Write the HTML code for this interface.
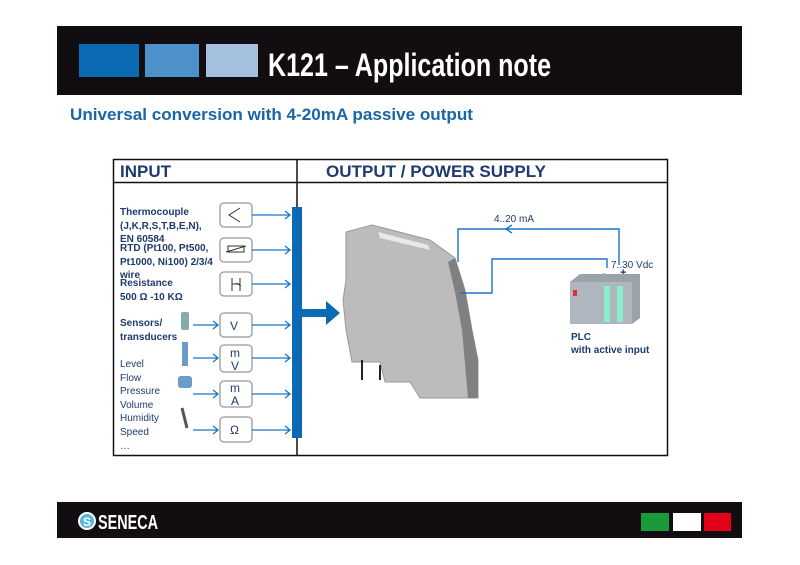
<!DOCTYPE html>
<html><head><meta charset="utf-8"><style>
body{margin:0;background:#fff;width:800px;height:565px;overflow:hidden}
svg{display:block}
</style></head><body>
<svg width="800" height="565" viewBox="0 0 800 565" font-family="Liberation Sans, sans-serif">
<rect x="57" y="26" width="685" height="69" fill="#110d10"/>
<rect x="79" y="44" width="60" height="33" fill="#0b6ab4"/>
<rect x="145" y="44" width="54" height="33" fill="#4d91ca"/>
<rect x="206" y="44" width="52" height="33" fill="#a6c0e0"/>
<text x="268" y="76" fill="#fff" font-size="32" font-weight="bold" textLength="283" lengthAdjust="spacingAndGlyphs">K121 – Application note</text>
<text x="70" y="120" fill="#1a66a6" font-size="17" font-weight="bold" textLength="403" lengthAdjust="spacingAndGlyphs">Universal conversion with 4-20mA passive output</text>

<rect x="113.5" y="159.5" width="554" height="296" fill="#fff" stroke="#111" stroke-width="1.5"/>
<line x1="113" y1="182.5" x2="667" y2="182.5" stroke="#111" stroke-width="1.5"/>
<line x1="297" y1="159" x2="297" y2="455" stroke="#111" stroke-width="1.5"/>
<text x="120" y="177" fill="#1f3a6e" font-size="17" font-weight="bold">INPUT</text>
<text x="326" y="177" fill="#1f3a6e" font-size="17" font-weight="bold" textLength="220" lengthAdjust="spacingAndGlyphs">OUTPUT / POWER SUPPLY</text>

<g fill="#1f3a6e" font-size="10" font-weight="bold">
<text x="120" y="215">Thermocouple</text>
<text x="120" y="229">(J,K,R,S,T,B,E,N),</text>
<text x="120" y="242">EN 60584</text>
<text x="120" y="251">RTD (Pt100, Pt500,</text>
<text x="120" y="265">Pt1000, Ni100)  2/3/4</text>
<text x="120" y="278">wire</text>
<text x="120" y="286">Resistance</text>
<text x="120" y="300">500 Ω -10 KΩ</text>
<text x="120" y="326">Sensors/</text>
<text x="120" y="340">transducers</text>
</g>
<g fill="#1f3a6e" font-size="10">
<text x="120" y="367">Level</text>
<text x="120" y="381">Flow</text>
<text x="120" y="394">Pressure</text>
<text x="120" y="408">Volume</text>
<text x="120" y="421">Humidity</text>
<text x="120" y="435">Speed</text>
<text x="120" y="449">…</text>
</g>

<g fill="#fff" stroke="#999" stroke-width="1.3">
<rect x="220" y="203" width="32" height="24" rx="4"/>
<rect x="220" y="238" width="32" height="24" rx="4"/>
<rect x="220" y="272" width="32" height="24" rx="4"/>
<rect x="220" y="313" width="32" height="24" rx="4"/>
<rect x="220" y="345" width="32" height="27" rx="4"/>
<rect x="220" y="381" width="32" height="26" rx="4"/>
<rect x="220" y="417" width="32" height="25" rx="4"/>
</g>
<path d="M240 208 L229 215 L240 222" fill="none" stroke="#333"/>
<rect x="228" y="246" width="16" height="6" fill="none" stroke="#333"/>
<path d="M226 252 L246 246" stroke="#333"/>
<path d="M232 278 v13 M232 284 h8 M240 278 v13 M236 283 l5 3" fill="none" stroke="#333"/>
<g fill="#1f3a6e" font-size="12">
<text x="230" y="330">V</text>
<text x="230" y="357">m</text><text x="231" y="370">V</text>
<text x="230" y="392">m</text><text x="231" y="405">A</text>
<text x="230" y="434">Ω</text>
</g>
<g stroke="#1a75c8" stroke-width="1.3" fill="none">
<path d="M252 215h38M252 250h38M252 284h38M252 325h38M252 358h38M252 394h38M252 430h38"/>
<path d="M193 325h25M193 358h25M193 394h25M193 430h25"/>
<path d="M285 211l5 4-5 4M285 246l5 4-5 4M285 280l5 4-5 4M285 321l5 4-5 4M285 354l5 4-5 4M285 390l5 4-5 4M285 426l5 4-5 4"/>
<path d="M213 321l5 4-5 4M213 354l5 4-5 4M213 390l5 4-5 4M213 426l5 4-5 4"/>
</g>
<rect x="181" y="312" width="8" height="18" fill="#8aa" rx="2"/>
<rect x="182" y="342" width="6" height="24" fill="#6b9bc8"/>
<rect x="178" y="376" width="14" height="12" fill="#6b9bc8" rx="3"/>
<path d="M182 408 l5 20" stroke="#555" stroke-width="3"/>

<rect x="292" y="207" width="10" height="231" fill="#0b6ab4"/>
<rect x="300" y="309" width="28" height="8" fill="#0b6ab4"/>
<path d="M326 301 L340 313 L326 325Z" fill="#0b6ab4"/>

<polygon points="346,232 372,225 430,240 455,258 465,290 472,330 478,360 478,398 420,398 410,382 385,382 380,362 352,362 346,330 343,300 346,280" fill="#bcbcbc" stroke="#999"/>
<polygon points="378,232 428,245 430,250 380,238" fill="#e8e8e8"/>
<path d="M455 258 L465 290 L472 330 L478 360 L478 398 L468 398 L462 330 L455 292 L448 262Z" fill="#808080"/>
<path d="M362 380 v-20 M380 380 v-15" stroke="#222" stroke-width="2"/>

<g stroke="#1a75c8" stroke-width="1.4" fill="none">
<path d="M458 262 V229 H619 V265"/>
<path d="M460 293 H492 V259 H607 V268"/>
<path d="M512 225 l-6 4 6 4"/>
</g>
<text x="494" y="222" fill="#1f3a6e" font-size="10">4..20 mA</text>
<text x="611" y="268" fill="#1f3a6e" font-size="10">7..30 Vdc</text>
<text x="602" y="277" fill="#1f3a6e" font-size="11" font-weight="bold">-</text>
<text x="620" y="276" fill="#1f3a6e" font-size="11" font-weight="bold">+</text>
<polygon points="570,282 580,274 640,274 640,318 632,324 570,324" fill="#9aa2aa"/>
<rect x="570" y="282" width="62" height="42" fill="#aeb6bf"/>
<rect x="573" y="290" width="4" height="6" fill="#d33"/>
<rect x="604" y="286" width="6" height="36" fill="#8ec"/>
<rect x="617" y="286" width="6" height="36" fill="#8ec"/>
<text x="571" y="340" fill="#1f3a6e" font-size="10" font-weight="bold">PLC</text>
<text x="571" y="353" fill="#1f3a6e" font-size="10" font-weight="bold">with  active input</text>

<rect x="57" y="502" width="685" height="36" fill="#110d10"/>
<circle cx="87" cy="521" r="8" fill="#5bb7d9" stroke="#fff" stroke-width="2"/>
<text x="83" y="526" fill="#fff" font-size="12" font-weight="bold">S</text>
<text x="98" y="529" fill="#fff" font-size="20" font-weight="bold" textLength="60" lengthAdjust="spacingAndGlyphs">SENECA</text>
<rect x="641" y="513" width="28" height="18" fill="#1a9a3a"/>
<rect x="673" y="513" width="28" height="18" fill="#fff"/>
<rect x="704" y="513" width="27" height="18" fill="#e3001b"/>
</svg>
</body></html>
